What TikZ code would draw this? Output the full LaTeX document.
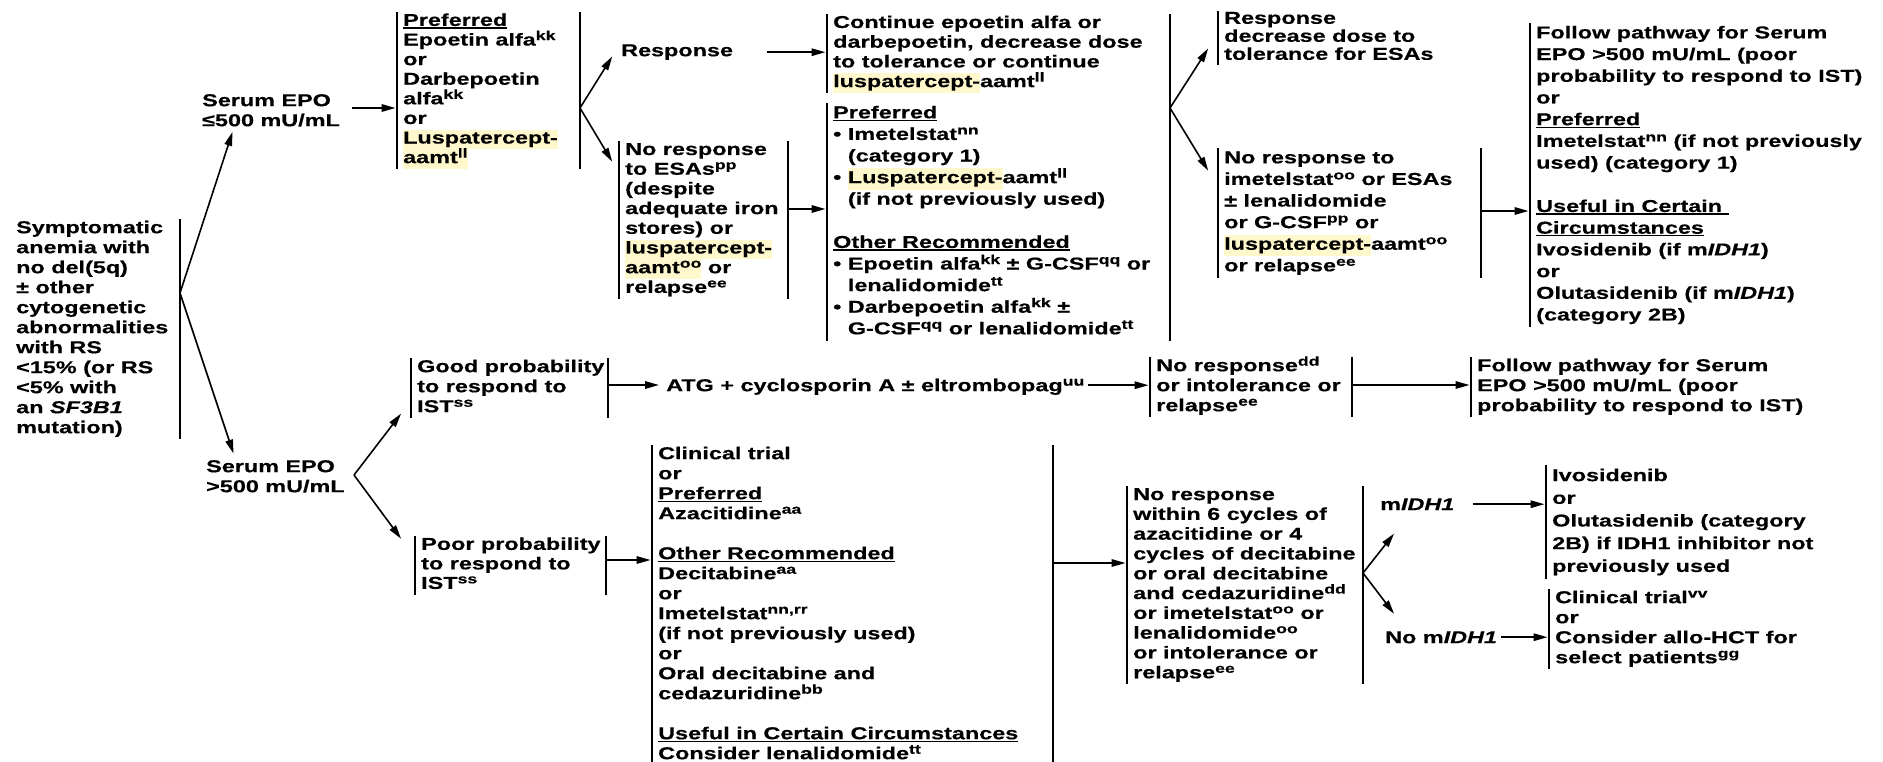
\documentclass[tikz,border=0pt]{standalone}
\usepackage{fontspec}
\setmainfont{Liberation Sans}[FakeStretch=1.36,FakeBold=0.4]
\usetikzlibrary{calc}
\usetikzlibrary{arrows.meta}
\definecolor{hly}{RGB}{255,248,204}
\newcommand\fs[1]{\fontsize{17.2}{#1}\selectfont\bfseries}
\newcommand\lines[1]{\begin{tabular}{@{}l@{}}#1\end{tabular}}
\newcommand\sups[1]{\raisebox{0.32em}[0pt][0pt]{\fontsize{13}{13}\selectfont #1}}
\newcommand\hlt[1]{{\setlength\fboxsep{0pt}\colorbox{hly}{\strut #1}}}
\newcommand\undl[1]{\setbox0\hbox{#1}\rlap{\rule[-2.8pt]{\wd0}{1.3pt}}\box0}

\begin{document}
\begin{tikzpicture}[x=1pt,y=-1pt,
    box/.style={anchor=north west,inner xsep=6pt,inner ysep=0pt},
    txt/.style={anchor=north west,inner sep=0pt},
    bar/.style={line width=2.3pt},
    arr/.style={line width=1.6pt,-{Triangle[length=14pt,width=7.5pt]},shorten >=1.5pt}]
                \fill[white] (0,0) rectangle (1883,761);
                \useasboundingbox (0,0) rectangle (1883,761);

                \node[txt,font=\fs{20}] (sym) at (16,219) {\lines{Symptomatic\\anemia with\\no del(5q)\\± other\\cytogenetic\\abnormalities\\with RS\\<15\% (or RS\\<5\% with\\an \textit{SF3B1}\\mutation)}};
                \node[txt,font=\fs{20}] (epolo) at (202,92) {\lines{Serum EPO\\≤500 mU/mL}};
                \node[txt,font=\fs{20}] (epohi) at (206,458) {\lines{Serum EPO\\>500 mU/mL}};

                \node[box,font=\fs{19.6}] (pref1) at (397,12) {\lines{\undl{Preferred}\\Epoetin alfa\sups{kk}\\or\\Darbepoetin\\alfa\sups{kk}\\or\\\hlt{Luspatercept-}\\\hlt{aamt\sups{ll}}}};
                \node[txt,font=\fs{20}] (resp1) at (621,42) {\lines{Response}};
                \node[box,font=\fs{19.7}] (nores1) at (619,141) {\lines{No response\\to ESAs\sups{pp}\\(despite\\adequate iron\\stores) or\\\hlt{luspatercept-}\\\hlt{aamt\sups{oo}} or\\relapse\sups{ee}}};
                \node[box,font=\fs{19.7}] (cont) at (827,14) {\lines{Continue epoetin alfa or\\darbepoetin, decrease dose\\to tolerance or continue\\\hlt{luspatercept-}aamt\sups{ll}}};
                \node[box,font=\fs{21.6}] (pref2) at (827,103) {\lines{\undl{Preferred}\\• Imetelstat\sups{nn}\\\phantom{• }(category 1)\\• \hlt{Luspatercept-}aamt\sups{ll}\\\phantom{• }(if not previously used)\\\\\undl{Other Recommended}\\• Epoetin alfa\sups{kk} ± G-CSF\sups{qq} or\\\phantom{• }lenalidomide\sups{tt}\\• Darbepoetin alfa\sups{kk} ±\\\phantom{• }G-CSF\sups{qq} or lenalidomide\sups{tt}}};
                \node[box,font=\fs{18}] (resp2) at (1218,11) {\lines{Response\\decrease dose to\\tolerance for ESAs}};
                \node[box,font=\fs{21.6}] (nores2) at (1218,148) {\lines{No response to\\imetelstat\sups{oo} or ESAs\\± lenalidomide\\or G-CSF\sups{pp} or\\\hlt{luspatercept-}aamt\sups{oo}\\or relapse\sups{ee}}};
                \node[box,font=\fs{21.7}] (fp1) at (1530,23) {\lines{Follow pathway for Serum\\EPO >500 mU/mL (poor\\probability to respond to IST)\\or\\\undl{Preferred}\\Imetelstat\sups{nn} (if not previously\\used) (category 1)\\\\\undl{Useful in Certain\ }\\\undl{Circumstances}\\Ivosidenib (if m\textit{IDH1})\\or\\Olutasidenib (if m\textit{IDH1})\\(category 2B)}};

                \node[box,font=\fs{20}] (good) at (411,358) {\lines{Good probability\\to respond to\\IST\sups{ss}}};
                \node[txt,font=\fs{20}] (atg) at (666,377) {\lines{ATG + cyclosporin A ± eltrombopag\sups{uu}}};
                \node[box,font=\fs{20}] (nores3) at (1150,357) {\lines{No response\sups{dd}\\or intolerance or\\relapse\sups{ee}}};
                \node[box,font=\fs{20}] (fp2) at (1471,357) {\lines{Follow pathway for Serum\\EPO >500 mU/mL (poor\\probability to respond to IST)}};

                \node[box,font=\fs{19.5}] (poor) at (415,536) {\lines{Poor probability\\to respond to\\IST\sups{ss}}};
                \node[box,font=\fs{20}] (ct1) at (652,445) {\lines{Clinical trial\\or\\\undl{Preferred}\\Azacitidine\sups{aa}\\\\\undl{Other Recommended}\\Decitabine\sups{aa}\\or\\Imetelstat\sups{nn,rr}\\(if not previously used)\\or\\Oral decitabine and\\cedazuridine\sups{bb}\\\\\undl{Useful in Certain Circumstances}\\Consider lenalidomide\sups{tt}}};
                \node[box,font=\fs{19.8}] (nores4) at (1127,486) {\lines{No response\\within 6 cycles of\\azacitidine or 4\\cycles of decitabine\\or oral decitabine\\and cedazuridine\sups{dd}\\or imetelstat\sups{oo} or\\lenalidomide\sups{oo}\\or intolerance or\\relapse\sups{ee}}};
                \node[txt,font=\fs{20}] (midh) at (1380,496) {\lines{m\textit{IDH1}}};
                \node[txt,font=\fs{20}] (nomidh) at (1385,629) {\lines{No m\textit{IDH1}}};
                \node[box,font=\fs{22.7}] (ivo) at (1546,465) {\lines{Ivosidenib\\or\\Olutasidenib (category\\2B) if IDH1 inhibitor not\\previously used}};
                \node[box,font=\fs{20}] (ct2) at (1549,589) {\lines{Clinical trial\sups{vv}\\or\\Consider allo-HCT for\\select patients\sups{gg}}};

                \foreach \n in {pref1,nores1,cont,pref2,resp2,nores2,fp1,good,nores3,fp2,poor,ct1,nores4,ivo,ct2}
                    \draw[bar] (\n.north west) -- (\n.south west);
                \foreach \n/\x in {sym/180,pref1/580,nores1/788,nores2/1481,good/608,nores3/1352,poor/606,ct1/1053,nores4/1363}
                    \draw[bar] (\x,0 |- \n.north) -- (\x,0 |- \n.south);

                \coordinate (f0) at (180,293);
                \coordinate (f1) at (354,475);
                \coordinate (f2) at (580,108);
                \coordinate (f3) at (1170,108);
                \coordinate (f4) at (1363,573);
                \draw[bar] (f3 |- cont.north) -- (f3 |- pref2.south);

                \draw[arr] (f0) -- ($(epolo.south west)+(31,-2)$);
                \draw[arr] (f0) -- ($(epohi.north west)+(28,-3)$);
                \draw[arr] (f1) -- ($(good.south west)+(-9,-6)$);
                \draw[arr] (f1) -- ($(poor.north west)+(-13,4)$);
                \draw[arr] (f2) -- ($(resp1.west)+(-8,3)$);
                \draw[arr] (f2) -- ($(nores1.north west)+(-6,22)$);
                \draw[arr] (f3) -- ($(resp2.west)+(-9,9)$);
                \draw[arr] (f3) -- ($(nores2.north west)+(-9,24)$);
                \draw[arr] (f4) -- ($(midh.south west)+(15,16)$);
                \draw[arr] (f4) -- ($(nomidh.north west)+(10,-14)$);

                \foreach \r/\x/\y in {r1/788/209,r2/1481/211,r3/608/385,r4/1352/385,r5/606/560,r6/1053/563}
                    \coordinate (\r) at (\x,\y);
                \foreach \r/\m in {r1/pref2,r2/fp1,r4/fp2,r5/ct1,r6/nores4}
                    \draw[arr] (\r) -- (\r -| \m.west);
                \draw[arr,shorten >=7pt] (r3) -- (r3 -| atg.west);

                \draw[arr] ($(epolo.north east)+(12,16)$) coordinate (a1) -- (a1 -| pref1.west);
                \draw[arr] ($(resp1.east)+(34,0)$) coordinate (a2) -- (a2 -| cont.west);
                \draw[arr] ($(atg.east)+(4,-2)$) coordinate (a3) -- (a3 -| nores3.west);
                \draw[arr] ($(midh.east)+(18,-2)$) coordinate (a4) -- (a4 -| ivo.west);
                \draw[arr] ($(nomidh.east)+(4,-2)$) coordinate (a5) -- (a5 -| ct2.west);
            \end{tikzpicture}
\end{document}
